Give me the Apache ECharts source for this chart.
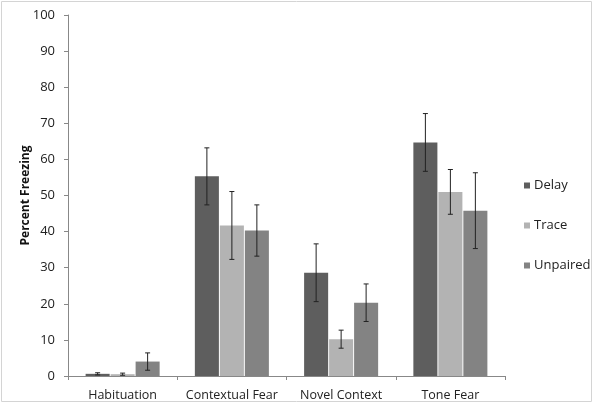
<!DOCTYPE html>
<html><head><meta charset="utf-8">
<script src="https://cdn.jsdelivr.net/npm/echarts@6/dist/echarts.min.js"></script>
<style>html,body{margin:0;padding:0;background:#fff}#c{width:600px;height:409px}</style>
</head><body><div id="c"></div>
<script>
const categories = ['Habituation', 'Contextual Fear', 'Novel Context', 'Tone Fear'];
const seriesNames = ['Delay', 'Trace', 'Unpaired'];
const delay = [0.6, 55.3, 28.6, 64.7];
const trace = [0.5, 41.7, 10.2, 51.0];
const unpaired = [4.0, 40.3, 20.3, 45.8];
const delayErr = [0.3, 7.9, 8.0, 8.0];
const traceErr = [0.3, 9.4, 2.5, 6.2];
const unpairedErr = [2.4, 7.1, 5.2, 10.5];
const yTicks = [0, 10, 20, 30, 40, 50, 60, 70, 80, 90, 100];

const colors = ['#5e5e5e', '#b3b3b3', '#838383'];
const values = [delay, trace, unpaired];
const errs = [delayErr, traceErr, unpairedErr];
const BAR_PCT = 0.22, GAP_PCT = 0.04;

const chart = echarts.init(document.getElementById('c'));
const series = [];
values.forEach((v, i) => {
  series.push({
    name: seriesNames[i], type: 'bar', data: v,
    barWidth: (BAR_PCT * 100) + '%', barGap: (GAP_PCT * 100) + '%',
    itemStyle: { color: colors[i] }, z: 2
  });
});
values.forEach((v, i) => {
  series.push({
    type: 'custom', name: seriesNames[i] + '_err', z: 5,
    data: v.map((m, k) => [k, m - errs[i][k], m + errs[i][k]]),
    renderItem: function (params, api) {
      const cw = api.size([1, 0])[0];
      const bw = cw * BAR_PCT, gap = bw * GAP_PCT;
      const off = (i - 1) * (bw + gap);
      const lo = api.coord([api.value(0), api.value(1)]);
      const hi = api.coord([api.value(0), api.value(2)]);
      const x = lo[0] + off, cap = 2.5;
      const st = { stroke: '#222', lineWidth: 1 };
      return { type: 'group', children: [
        { type: 'line', shape: { x1: x, y1: lo[1], x2: x, y2: hi[1] }, style: st },
        { type: 'line', shape: { x1: x - cap, y1: hi[1], x2: x + cap, y2: hi[1] }, style: st },
        { type: 'line', shape: { x1: x - cap, y1: lo[1], x2: x + cap, y2: lo[1] }, style: st }
      ]};
    }
  });
});

chart.setOption({
  animation: false,
  color: colors,
  graphic: [{ type: 'rect', shape: { x: 1.5, y: 1.5, width: 590, height: 400 },
    style: { fill: 'none', stroke: '#d4d4d4', lineWidth: 1 }, silent: true }],
  grid: { left: 68, right: 95, top: 15, bottom: 33 },
  legend: {
    data: seriesNames, orient: 'vertical', left: 519, top: 174,
    itemWidth: 6, itemHeight: 6, itemGap: 27, icon: 'rect',
    textStyle: { fontFamily: 'Open Sans', fontSize: 13, color: '#222', padding: [0, 0, 0, -1] }
  },
  xAxis: {
    type: 'category', data: categories,
    axisLine: { lineStyle: { color: '#888' } },
    axisTick: { show: true, length: 4, lineStyle: { color: '#888' } },
    axisLabel: { interval: 0, fontFamily: 'Open Sans', fontSize: 12.5, color: '#222', margin: 13 }
  },
  yAxis: {
    type: 'value', min: yTicks[0], max: yTicks[yTicks.length - 1], interval: 10,
    name: 'Percent Freezing', nameLocation: 'middle', nameGap: 36, nameMoveOverlap: false,
    nameTextStyle: { fontFamily: 'Open Sans', fontWeight: 'bold', fontSize: 12, color: '#111' },
    axisLine: { show: true, lineStyle: { color: '#888' } },
    axisTick: { show: true, length: 4, lineStyle: { color: '#888' } },
    splitLine: { show: false },
    axisLabel: { fontFamily: 'Open Sans', fontSize: 13, color: '#222', margin: 13 }
  },
  series: series
});
</script></body></html>
